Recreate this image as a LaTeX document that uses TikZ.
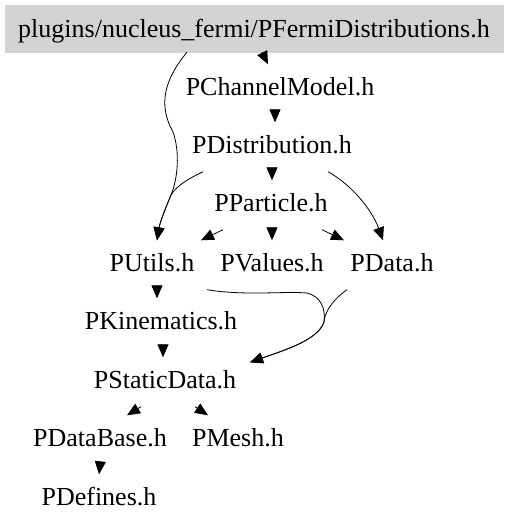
\documentclass[tikz,border=0pt]{standalone}
\usepackage{fontspec}
\setmainfont{Liberation Serif}
\usetikzlibrary{arrows.meta}
\definecolor{boxgray}{HTML}{D3D3D3}
\begin{document}
\begin{tikzpicture}[x=1pt,y=-1pt,
  file/.style={anchor=base, inner xsep=6pt, inner ysep=12.5pt, text height=18pt, text depth=6pt, font=\fontsize{26}{30}\selectfont},
  topbox/.style={anchor=base, fill=boxgray, draw=boxgray, inner xsep=0pt, inner ysep=6pt, minimum width=498pt, text height=26pt, text depth=9pt, font=\fontsize{26}{30}\selectfont},
  edge/.style={draw=black, line width=0.8pt, -{Triangle[length=13pt,width=11pt]}}]
\useasboundingbox (0,0) rectangle (508,528);
\node[topbox] (top) at (254,37) {plugins/nucleus\_fermi/PFermiDistributions.h};
\node[file] (pchan) at (280,95) {PChannelModel.h};
\node[file] (pdist) at (272,153) {PDistribution.h};
\node[file] (ppart) at (271,211) {PParticle.h};
\node[file] (putils) at (152,271) {PUtils.h};
\node[file] (pvalues) at (272,271) {PValues.h};
\node[file] (pdata) at (392,271) {PData.h};
\node[file] (pkin) at (161,329) {PKinematics.h};
\node[file] (pstatic) at (165,388) {PStaticData.h};
\node[file] (pdbase) at (100,446) {PDataBase.h};
\node[file] (pmesh) at (238,446) {PMesh.h};
\node[file] (pdef) at (99,505) {PDefines.h};
\coordinate (umerge) at (171,195);
\coordinate (smerge) at (324,322);
% edges
\draw[edge] ([xshift=8pt]top.south) -- ([xshift=-12pt]pchan.north);
\draw[edge] ([xshift=-67pt]top.south) .. controls (164,80) and (158,105) .. (173,132)
  .. controls (180,152) and (178,178) .. (umerge)
  .. controls (166,207) and (160,222) .. ([xshift=5pt]putils.north);
\draw[edge] ([xshift=-5pt]pchan.south) -- ([xshift=3pt]pdist.north);
\draw[edge] (pdist.south) -- ([xshift=1pt]ppart.north);
\draw[edge] ([xshift=56pt]pdist.south) .. controls (352,185) and (372,210) .. ([xshift=-9pt]pdata.north);
\draw[edge] ([xshift=-69pt]pdist.south) .. controls (190,178) and (177,185) .. (umerge)
  .. controls (166,207) and (160,222) .. ([xshift=5pt]putils.north);
\draw[edge] ([xshift=-48pt]ppart.south) -- ([xshift=49pt]putils.north);
\draw[edge] ([xshift=1pt]ppart.south) -- (pvalues.north);
\draw[edge] ([xshift=51pt]ppart.south) -- ([xshift=-48pt]pdata.north);
\draw[edge] ([xshift=5pt]putils.south) -- ([xshift=-4pt]pkin.north);
\draw[edge] ([xshift=55pt]putils.south) .. controls (245,296) and (285,291) .. (307,293)
  .. controls (320,296) and (326,308) .. (smerge)
  .. controls (318,340) and (285,350) .. ([xshift=85pt,yshift=-5pt]pstatic.north);
\draw[edge] ([xshift=-45pt]pdata.south) .. controls (335,298) and (325,310) .. (smerge)
  .. controls (318,340) and (285,350) .. ([xshift=85pt,yshift=-5pt]pstatic.north);
\draw[edge] ([xshift=2pt]pkin.south) -- ([xshift=-2pt]pstatic.north);
\draw[edge] ([xshift=-24pt]pstatic.south) -- ([xshift=27pt]pdbase.north);
\draw[edge] ([xshift=30pt]pstatic.south) -- ([xshift=-30pt]pmesh.north);
\draw[edge] (pdbase.south) -- (pdef.north);
\end{tikzpicture}
\end{document}
